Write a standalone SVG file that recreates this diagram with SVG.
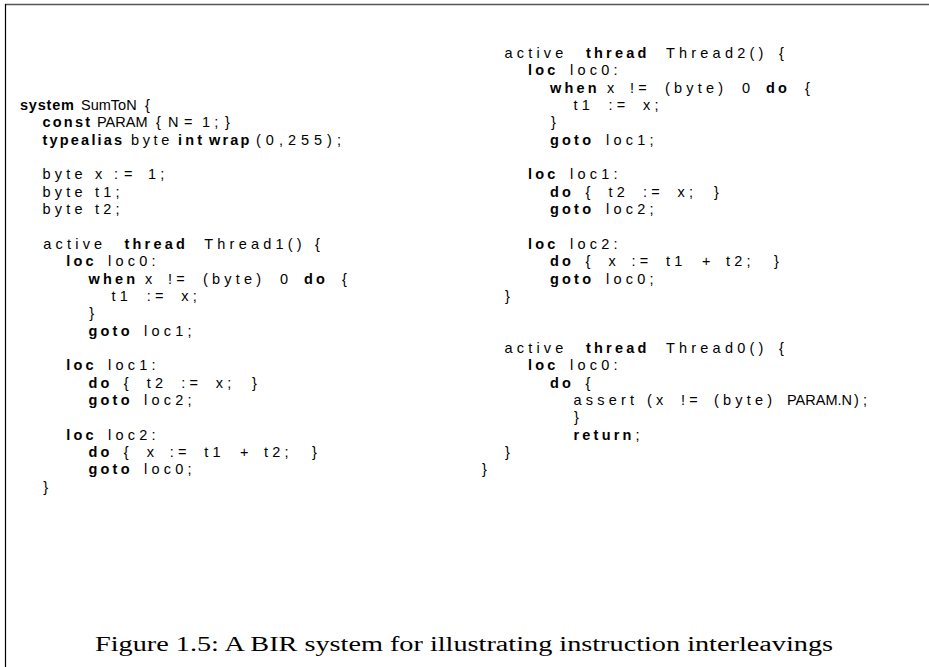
<svg xmlns="http://www.w3.org/2000/svg" width="929" height="667" viewBox="0 0 929 667">
<style>
.t{font-family:"Liberation Sans",Arial,sans-serif;font-size:14.5px;fill:#000}
.r{letter-spacing:4.2px}
.k{font-weight:bold;letter-spacing:3.2px}
.k0{font-weight:bold;letter-spacing:0.8px}
.k2{font-weight:bold;letter-spacing:2.2px}
.u{letter-spacing:0}
.cap{font-family:"Liberation Serif","Times New Roman",serif;font-size:20px;fill:#000}
</style>
<rect width="929" height="667" fill="#fff"/>
<g id="frame">
<line x1="5" y1="4.5" x2="929" y2="4.5" stroke="#555" stroke-width="1.5"/>
<line x1="5.5" y1="4" x2="5.5" y2="667" stroke="#000" stroke-width="1.2"/>
</g>
<g id="left-column" class="t">
<text y="110.05"><tspan class="k0" x="20">system</tspan><tspan class="u" x="81">SumToN</tspan><tspan class="r" x="145">{</tspan></text>
<text y="127.4"><tspan class="k2" x="42.5">const</tspan><tspan class="u" x="97">PARAM</tspan><tspan class="r" x="156">{</tspan><tspan class="u" x="168">N</tspan><tspan class="r" x="184">=</tspan><tspan class="r" x="202">1;</tspan><tspan class="r" x="225">}</tspan></text>
<text y="144.75"><tspan class="k2" x="42.5">typealias</tspan><tspan class="r" x="131" style="letter-spacing:3.6px">byte</tspan><tspan class="k" x="178">int</tspan><tspan class="k2" x="209">wrap</tspan><tspan class="r" x="256" style="letter-spacing:5px">(0,255);</tspan></text>
<text y="179.45"><tspan class="r" x="42.5">byte</tspan><tspan class="r" x="95">x</tspan><tspan class="r" x="114" style="letter-spacing:6px">:=</tspan><tspan class="r" x="148">1;</tspan></text>
<text y="196.8"><tspan class="r" x="42.5">byte</tspan><tspan class="r" x="95">t1;</tspan></text>
<text y="214.15"><tspan class="r" x="42.5">byte</tspan><tspan class="r" x="95">t2;</tspan></text>
<text y="248.85"><tspan class="r" x="43.3">active</tspan><tspan class="k" x="124.5">thread</tspan><tspan class="r" x="204.3">Thread1()</tspan><tspan class="r" x="315">{</tspan></text>
<text y="266.2"><tspan class="k" x="66.3">loc</tspan><tspan class="r" x="108">loc0:</tspan></text>
<text y="283.55"><tspan class="k" x="88.5">when</tspan><tspan class="r" x="145">x</tspan><tspan class="r" x="168">!=</tspan><tspan class="r" x="203">(byte)</tspan><tspan class="r" x="280">0</tspan><tspan class="k" x="304">do</tspan><tspan class="r" x="342">{</tspan></text>
<text y="300.9"><tspan class="r" x="111.5">t1</tspan><tspan class="r" x="146.8">:=</tspan><tspan class="r" x="181.3">x;</tspan></text>
<text y="318.25"><tspan class="r" x="89.3">}</tspan></text>
<text y="335.6"><tspan class="k" x="88.5">goto</tspan><tspan class="r" x="144">loc1;</tspan></text>
<text y="370.3"><tspan class="k" x="66.3">loc</tspan><tspan class="r" x="108">loc1:</tspan></text>
<text y="387.65"><tspan class="k" x="88.5">do</tspan><tspan class="r" x="123.8">{</tspan><tspan class="r" x="146.8">t2</tspan><tspan class="r" x="181.3">:=</tspan><tspan class="r" x="215.8">x;</tspan><tspan class="r" x="252">}</tspan></text>
<text y="405"><tspan class="k" x="88.5">goto</tspan><tspan class="r" x="144">loc2;</tspan></text>
<text y="439.7"><tspan class="k" x="66.3">loc</tspan><tspan class="r" x="108">loc2:</tspan></text>
<text y="457.05"><tspan class="k" x="88.5">do</tspan><tspan class="r" x="123.8">{</tspan><tspan class="r" x="146.8">x</tspan><tspan class="r" x="169.8">:=</tspan><tspan class="r" x="204.3">t1</tspan><tspan class="r" x="240">+</tspan><tspan class="r" x="264">t2;</tspan><tspan class="r" x="312">}</tspan></text>
<text y="474.4"><tspan class="k" x="88.5">goto</tspan><tspan class="r" x="144">loc0;</tspan></text>
<text y="491.75"><tspan class="r" x="43.3">}</tspan></text>
</g>
<g id="right-column" class="t">
<text y="58"><tspan class="r" x="504.5">active</tspan><tspan class="k" x="586">thread</tspan><tspan class="r" x="666">Thread2()</tspan><tspan class="r" x="779">{</tspan></text>
<text y="75.35"><tspan class="k" x="528">loc</tspan><tspan class="r" x="570">loc0:</tspan></text>
<text y="92.7"><tspan class="k" x="550">when</tspan><tspan class="r" x="607">x</tspan><tspan class="r" x="630">!=</tspan><tspan class="r" x="665">(byte)</tspan><tspan class="r" x="742">0</tspan><tspan class="k" x="766">do</tspan><tspan class="r" x="805">{</tspan></text>
<text y="110.05"><tspan class="r" x="573.5">t1</tspan><tspan class="r" x="608.5">:=</tspan><tspan class="r" x="643">x;</tspan></text>
<text y="127.4"><tspan class="r" x="551">}</tspan></text>
<text y="144.75"><tspan class="k" x="550">goto</tspan><tspan class="r" x="606">loc1;</tspan></text>
<text y="179.45"><tspan class="k" x="528">loc</tspan><tspan class="r" x="570">loc1:</tspan></text>
<text y="196.8"><tspan class="k" x="550">do</tspan><tspan class="r" x="585.5">{</tspan><tspan class="r" x="608.5">t2</tspan><tspan class="r" x="643">:=</tspan><tspan class="r" x="677.5">x;</tspan><tspan class="r" x="714">}</tspan></text>
<text y="214.15"><tspan class="k" x="550">goto</tspan><tspan class="r" x="606">loc2;</tspan></text>
<text y="248.85"><tspan class="k" x="528">loc</tspan><tspan class="r" x="570">loc2:</tspan></text>
<text y="266.2"><tspan class="k" x="550">do</tspan><tspan class="r" x="585.5">{</tspan><tspan class="r" x="608.5">x</tspan><tspan class="r" x="631.5">:=</tspan><tspan class="r" x="666">t1</tspan><tspan class="r" x="702">+</tspan><tspan class="r" x="726">t2;</tspan><tspan class="r" x="774">}</tspan></text>
<text y="283.55"><tspan class="k" x="550">goto</tspan><tspan class="r" x="606">loc0;</tspan></text>
<text y="300.9"><tspan class="r" x="505">}</tspan></text>
<text y="352.95"><tspan class="r" x="504.5">active</tspan><tspan class="k" x="586">thread</tspan><tspan class="r" x="666">Thread0()</tspan><tspan class="r" x="779">{</tspan></text>
<text y="370.3"><tspan class="k" x="528">loc</tspan><tspan class="r" x="570">loc0:</tspan></text>
<text y="387.65"><tspan class="k" x="550">do</tspan><tspan class="r" x="585.5">{</tspan></text>
<text y="405"><tspan class="r" x="573.5">assert</tspan><tspan class="r" x="647">(x</tspan><tspan class="r" x="681">!=</tspan><tspan class="r" x="714">(byte)</tspan><tspan class="u" x="787">PARAM.N</tspan><tspan class="r" x="854">);</tspan></text>
<text y="422.35"><tspan class="r" x="574">}</tspan></text>
<text y="439.7"><tspan class="k" x="573.5">return</tspan><tspan class="r" dx="1">;</tspan></text>
<text y="457.05"><tspan class="r" x="505">}</tspan></text>
<text y="474.4"><tspan class="r" x="482">}</tspan></text>
</g>
<g id="caption">
<text class="cap" x="95" y="651" textLength="738" lengthAdjust="spacingAndGlyphs">Figure 1.5: A BIR system for illustrating instruction interleavings</text>
</g>
</svg>
